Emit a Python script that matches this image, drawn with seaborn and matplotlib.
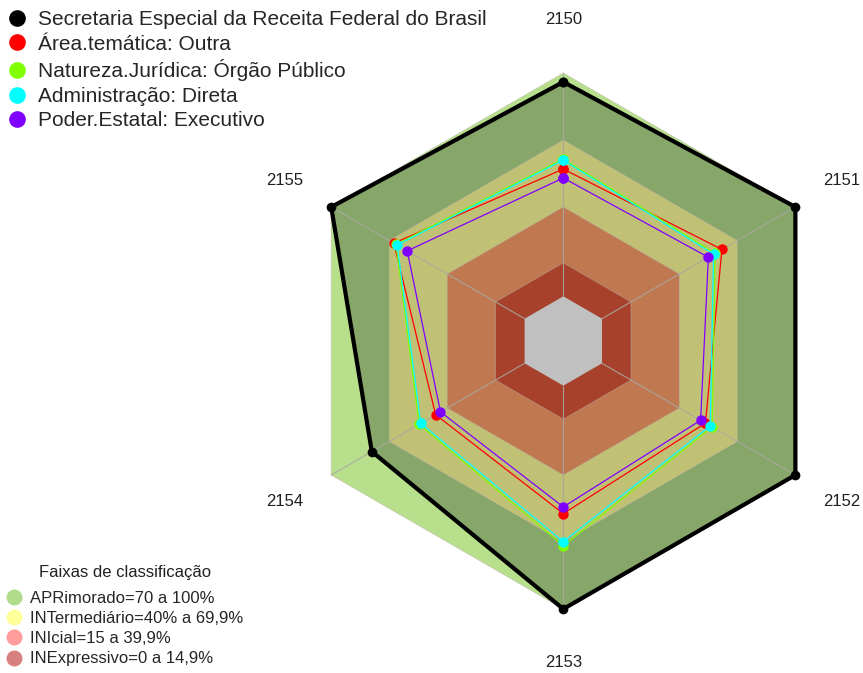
import numpy as np
import pandas as pd
import matplotlib
matplotlib.use("Agg")
import matplotlib.pyplot as plt
from matplotlib.lines import Line2D
import seaborn as sns

sns.set_style("white")
plt.rcParams['font.family'] = ['Liberation Sans', 'DejaVu Sans']

# ---------------- data ----------------
axes_labels = ["2150", "2151", "2152", "2153", "2154", "2155"]
series_names = [
    "Secretaria Especial da Receita Federal do Brasil",
    "Área.temática: Outra",
    "Natureza.Jurídica: Órgão Público",
    "Administração: Direta",
    "Poder.Estatal: Executivo",
]
secretaria = [96, 100, 100, 100, 79, 100]
area_outra = [57, 62, 53.5, 57.3, 46, 67.6]
natureza_orgao = [61.5, 58.5, 57, 71.7, 54.5, 66.5]
administracao_direta = [61, 57.7, 56, 69.9, 53.7, 65.9]
poder_executivo = [53, 55, 51, 54.3, 43.5, 60.7]
series_values = [secretaria, area_outra, natureza_orgao, administracao_direta, poder_executivo]
series_colors = ["#000000", "#ff0000", "#7fff00", "#00ffff", "#8000ff"]

bands_title = "Faixas de classificação"
band_labels = ["APRimorado=70 a 100%", "INTermediário=40% a 69,9%",
               "INIcial=15 a 39,9%", "INExpressivo=0 a 14,9%"]
band_upper = [100, 70, 40, 15]
band_colors = ["#b8e08c", "#c1c176", "#c07850", "#a8412c"]
band_legend_colors = ["#b0dc8c", "#ffff99", "#ff9c9c", "#d88080"]
inside_color = "#87a66a"
center_color = "#c0c0c0"

# ---------------- figure ----------------
W, H = 863, 673
fig = plt.figure(figsize=(W / 100, H / 100), dpi=100)
cx, cy, R = 563.3, 341.0, 268.0
ax = fig.add_axes([(cx - R) / W, (H - cy - R) / H, 2 * R / W, 2 * R / H], projection="polar")
ax.set_theta_zero_location("N")
ax.set_theta_direction(-1)

n = len(axes_labels)
theta = np.arange(n) * 2 * np.pi / n
theta_closed = np.append(theta, theta[0] + 2 * np.pi)

def closed(vals):
    return np.append(np.asarray(vals, dtype=float), vals[0])

# outer band (100)
ax.fill(theta_closed, closed([band_upper[0]] * n), color=band_colors[0], lw=0, zorder=1)
# area of the main series
ax.fill(theta_closed, closed(secretaria), color=inside_color, lw=0, zorder=2)
# inner bands
for up, col in zip(band_upper[1:], band_colors[1:]):
    ax.fill(theta_closed, closed([up] * n), color=col, lw=0, zorder=3)
ax.fill(theta_closed, closed([0] * n), color=center_color, lw=0, zorder=3)

# grid: hexagons and spokes
for up in band_upper[::-1]:
    ax.plot(theta_closed, closed([up] * n), color="#b8b0a8", lw=0.6, alpha=0.5, zorder=4)
for t in theta:
    ax.plot([t, t], [0, 100], color="#a8a8a0", lw=0.8, alpha=0.9, zorder=4)

# series
for name, vals, col in zip(series_names, series_values, series_colors):
    df = pd.DataFrame({"theta": theta_closed, "valor": closed(vals)})
    is_main = col == "#000000"
    sns.lineplot(data=df, x="theta", y="valor", sort=False, estimator=None, ax=ax,
                 color=col, lw=3.0 if is_main else 0.9, marker="o",
                 markersize=7 if is_main else 7.5, markeredgewidth=0, zorder=6)

for ln in ax.lines:
    ln.set_clip_on(False)

ax.set_ylim(-20, 100)
ax.set_xlabel("")
ax.set_ylabel("")
ax.set_xticks([])
ax.set_yticks([])
ax.grid(False)
ax.spines["polar"].set_visible(False)
ax.patch.set_alpha(0)

for t, lab in zip(theta, axes_labels):
    ax.text(t, 124, lab, ha="center", va="center", fontsize=12, color="#202020", clip_on=False)

# legend of series
h1 = [Line2D([], [], ls="none", marker="o", markersize=12, markeredgewidth=0, color=c)
      for c in series_colors]
leg1 = fig.legend(h1, series_names, loc="upper left", bbox_to_anchor=(6.5 / W, 1 - 10 / H),
                  frameon=False, fontsize=15, handlelength=1.0, handletextpad=0.5,
                  labelspacing=0.27, borderpad=0, borderaxespad=0)

# legend of bands
fig.text(125 / W, 1 - 573 / H, bands_title, ha="center", va="center", fontsize=12,
         color="#202020")
h2 = [Line2D([], [], ls="none", marker="o", markersize=11.5, markeredgewidth=0, color=c)
      for c in band_legend_colors]
leg2 = fig.legend(h2, band_labels, loc="upper left", bbox_to_anchor=(5.6 / W, 1 - 591 / H),
                  frameon=False, fontsize=12, handlelength=1.0, handletextpad=0.45,
                  labelspacing=0.31, borderpad=0, borderaxespad=0)

fig.savefig("out.png", dpi=100)
